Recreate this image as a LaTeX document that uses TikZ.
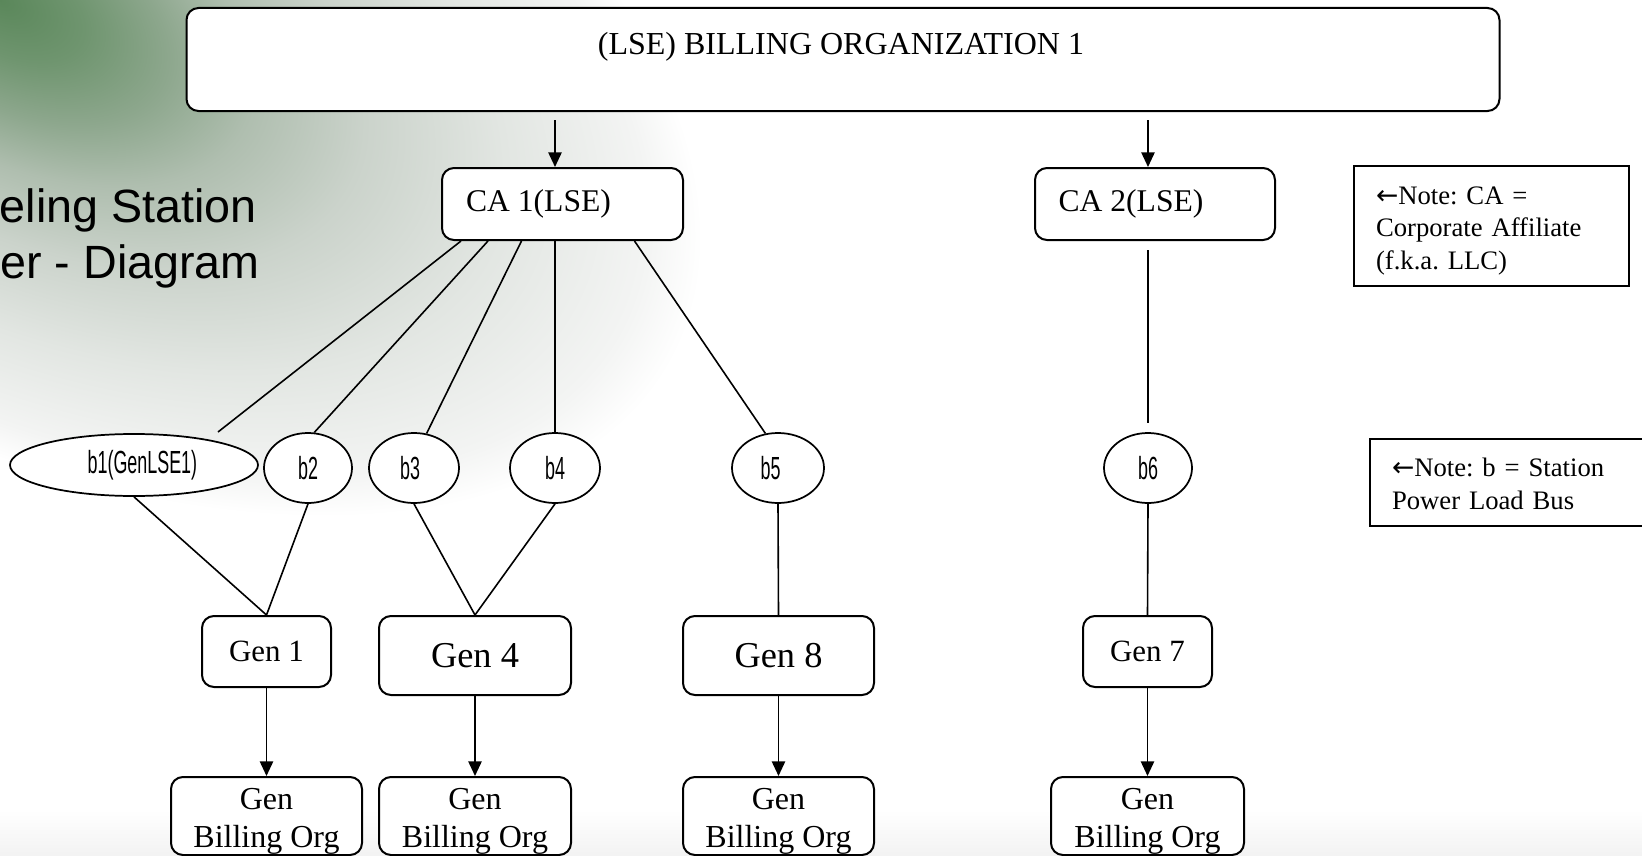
\documentclass[tikz,border=0pt]{standalone}
\usepackage{fontspec}
\setmainfont{Liberation Serif}
\newfontfamily\lsans{Liberation Sans}
\newfontfamily\lsanscond[FakeStretch=0.56]{Liberation Sans}
\newfontfamily\dejavu{DejaVu Sans}
\usetikzlibrary{shapes.geometric,arrows.meta,calc}
\definecolor{bgA}{HTML}{5A875A}
\definecolor{bgB}{HTML}{6F956F}
\definecolor{bgC}{HTML}{8DA78D}
\definecolor{bgD}{HTML}{AFBEAF}
\definecolor{bgE}{HTML}{CBD3CB}
\definecolor{bgF}{HTML}{E2E6E2}
\definecolor{bgG}{HTML}{F3F4F3}
\pgfdeclareradialshading{bgshade}{\pgfpoint{0bp}{0bp}}{color(0bp)=(bgA); color(6bp)=(bgB); color(12bp)=(bgC); color(18bp)=(bgD); color(26bp)=(bgE); color(36bp)=(bgF); color(46bp)=(bgG); color(50bp)=(white); color(60bp)=(white)}
\frenchspacing
\begin{document}
\begin{tikzpicture}[x=0.75pt, y=-0.75pt,
  rbox/.style={draw, line width=1.5pt, rounded corners=9pt, inner sep=0pt, align=center, fill=white},
  bus/.style={ellipse, draw, line width=1.3pt, inner sep=0pt, fill=white, font=\lsanscond\fontsize{24pt}{28pt}\selectfont},
  notebox/.style={line width=1.5pt, inner xsep=15.75pt, inner ysep=0pt, align=left, fill=white, font=\fontsize{20pt}{24.2pt}\selectfont},
  link/.style={line width=1.2pt},
  arr/.style={line width=1.2pt, -{Triangle[width=10pt,length=11pt]}},
  small/.style={font=\fontsize{23.2pt}{28pt}\selectfont},
  big/.style={font=\fontsize{27.3pt}{32pt}\selectfont},
  org/.style={font=\fontsize{24pt}{29pt}\selectfont}
]
\useasboundingbox (0,0) rectangle (1642,856);
% background
\fill[white] (0,0) rectangle (1642,856);
\begin{scope}
  \clip (0,0) rectangle (1642,856);
  \begin{pgfscope}
    \pgftransformrotate{-28}
    \pgftransformxscale{11.4}
    \pgftransformyscale{6.3}
    \pgflowlevelsynccm
    \pgfuseshading{bgshade}
  \end{pgfscope}
  \shade[top color=white, bottom color=black!5] (0,810) rectangle (1642,856);
\end{scope}
% side title fragments
\node[anchor=base east, inner sep=0pt, font=\lsans\fontsize{35pt}{42pt}\selectfont] (t1) at (257,222) {eling Station};
\node[anchor=base east, inner sep=0pt, font=\lsans\fontsize{35pt}{42pt}\selectfont] (t2) at (260,278) {er - Diagram};
% top box
\node[rbox, minimum width=984.75pt, minimum height=77.25pt] (top) at (843,59.5) {};
\node[inner sep=0pt, font=\fontsize{24pt}{29pt}\selectfont] (title) at (841,47) {(LSE) BILLING ORGANIZATION 1};
% CA boxes
\node[rbox, minimum width=180.75pt, minimum height=54pt, font=\fontsize{23.7pt}{28pt}\selectfont] (ca1) at (562.5,204) {CA 1(LSE)\hspace*{36pt}};
\node[rbox, minimum width=180pt, minimum height=54pt, font=\fontsize{23.7pt}{28pt}\selectfont] (ca2) at (1155,204) {CA 2(LSE)\hspace*{36pt}};
% notes
\node[notebox, text width=173.25pt, minimum height=88.5pt] (note1) at (1491.5,231) {{\dejavu ←}Note: CA =\\Corporate Affiliate\\(f.k.a. LLC)};
\draw[line width=1.5pt] ($(note1.north west)+(0,-5)$) rectangle ($(note1.south east)+(0,-5)$);
\node[notebox, text width=171.75pt, minimum height=63.75pt] (note2) at (1506.5,484) {{\dejavu ←}Note: b = Station\\Power Load Bus};
\draw[line width=1.5pt] ($(note2.north east)+(0,-1.5)$) -| ($(note2.south west)+(0,-1.5)$) -- ($(note2.south east)+(0,-1.5)$);
% buses
\node[bus, minimum width=186pt, minimum height=46.5pt] (b1) at (134,465) {\hspace*{12.6pt}b1(GenLSE1)};
\node[bus, minimum width=66pt, minimum height=52.5pt] (b2) at (308,468) {b2};
\node[bus, minimum width=67.5pt, minimum height=52.5pt] (b3) at (414,468) {b3\hspace*{6pt}};
\node[bus, minimum width=67.5pt, minimum height=52.5pt] (b4) at (555,468) {b4};
\node[bus, minimum width=69pt, minimum height=52.5pt] (b5) at (778,468) {b5\hspace*{11pt}};
\node[bus, minimum width=66pt, minimum height=52.5pt] (b6) at (1148,468) {b6};
\coordinate (b1top) at (218,432);
% generators
\node[rbox, small, minimum width=96.75pt, minimum height=53.25pt] (gen1) at (266.5,651.5) {Gen 1};
\node[rbox, big, minimum width=144pt, minimum height=59.25pt] (gen4) at (475,655.5) {Gen 4};
\node[rbox, big, minimum width=143.25pt, minimum height=59.25pt] (gen8) at (778.5,655.5) {Gen 8};
\node[rbox, small, minimum width=96.75pt, minimum height=53.25pt] (gen7) at (1147.5,651.5) {Gen 7};
% billing orgs
\node[rbox, org, minimum width=143.25pt, minimum height=58.5pt] (gbo1) at (266.5,816) {\rule{0pt}{24pt}Gen\\Billing Org};
\node[rbox, org, minimum width=144pt, minimum height=58.5pt] (gbo4) at (475,816) {\rule{0pt}{24pt}Gen\\Billing Org};
\node[rbox, org, minimum width=143.25pt, minimum height=58.5pt] (gbo8) at (778.5,816) {\rule{0pt}{24pt}Gen\\Billing Org};
\node[rbox, org, minimum width=144.75pt, minimum height=58.5pt] (gbo7) at (1147.5,816) {\rule{0pt}{24pt}Gen\\Billing Org};
% connectors top -> CA
\draw[arr] ($(top.south -| ca1.north)+(-7.5,8)$) -- ($(ca1.north)+(-7.5,0)$);
\draw[arr] ($(top.south -| ca2.north)+(-7,8)$) -- ($(ca2.north)+(-7,0)$);
% CA1 -> buses
\draw[link] ($(ca1.south)+(-101.5,0)$) -- (b1top);
\draw[link] ($(ca1.south)+(-74.5,0)$) -- (b2.80);
\draw[link] ($(ca1.south)+(-41,0)$) -- (b3.70);
\draw[link] ($(ca1.south)+(-7.5,0)$) -- (b4.north);
\draw[link] ($(ca1.south)+(72,0)$) -- (b5.110);
\draw[link, shorten <=7pt, shorten >=7pt] ($(ca2.south)+(-7,0)$) -- (b6.north);
% buses -> gens
\draw[link] (b1.south) -- (gen1.north);
\draw[link] (b2.south) -- (gen1.north);
\draw[link] (b3.south) -- (gen4.north);
\draw[link] (b4.south) -- (gen4.north);
\draw[link] (b5.south) -- (gen8.north);
\draw[link] (b6.south) -- (gen7.north);
% gens -> billing orgs
\draw[arr] (gen1.south) -- (gbo1.north);
\draw[arr] (gen4.south) -- (gbo4.north);
\draw[arr] (gen8.south) -- (gbo8.north);
\draw[arr] (gen7.south) -- (gbo7.north);
\end{tikzpicture}
\end{document}
